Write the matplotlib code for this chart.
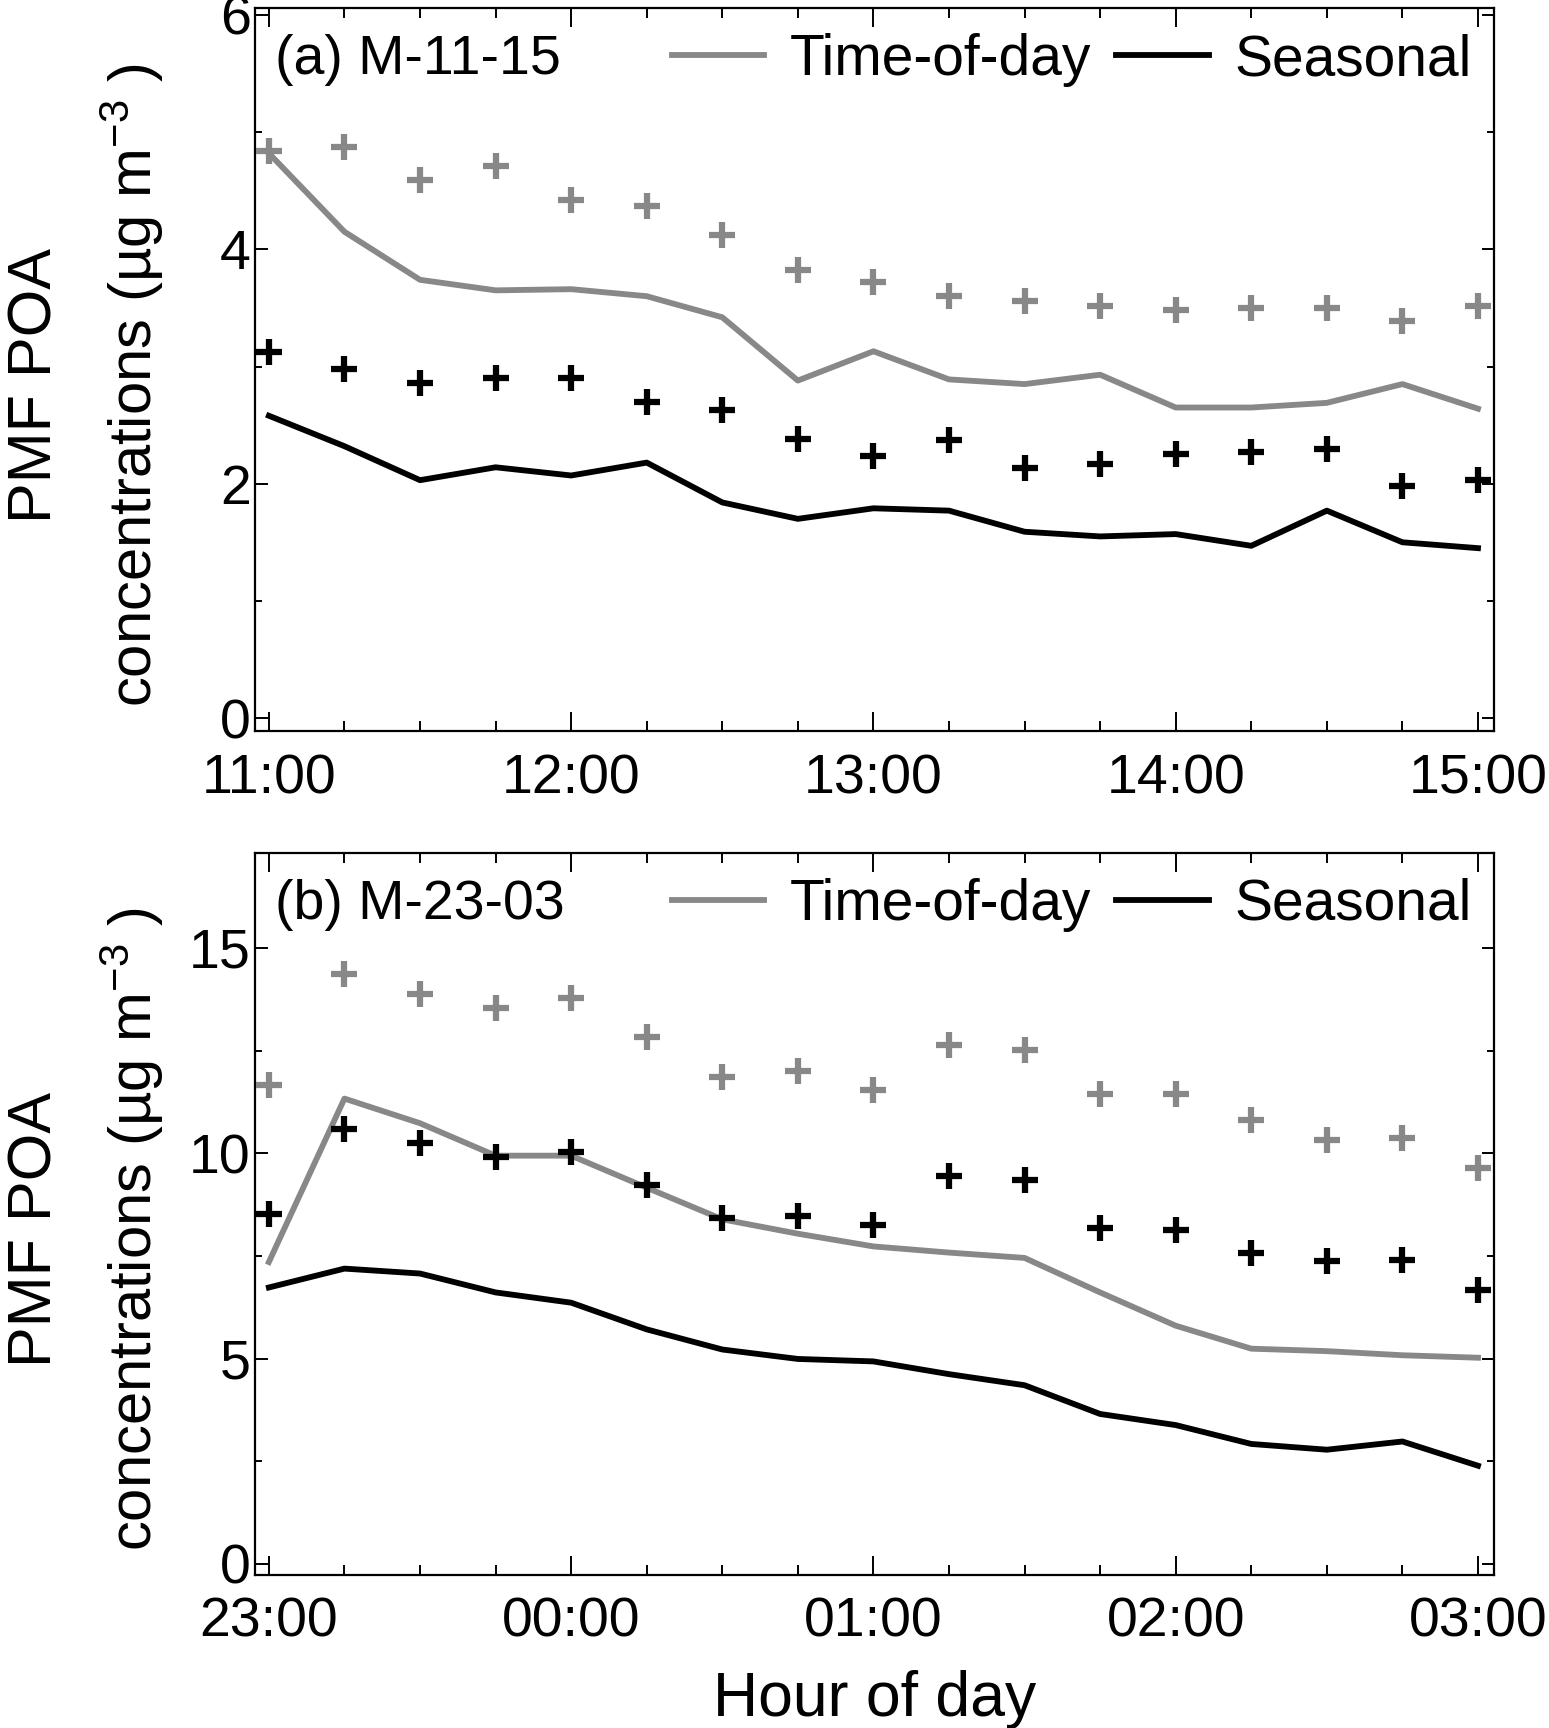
import numpy as np
import matplotlib
matplotlib.use("Agg")
import matplotlib.pyplot as plt
from matplotlib.ticker import MultipleLocator

plt.rcParams["font.family"] = ["Liberation Sans", "DejaVu Sans"]
plt.rcParams["mathtext.default"] = "regular"

# panel (a): M-11-15
times_a = ["11:00", "11:15", "11:30", "11:45", "12:00", "12:15", "12:30", "12:45", "13:00",
           "13:15", "13:30", "13:45", "14:00", "14:15", "14:30", "14:45", "15:00"]
tod_line_a = [4.82, 4.15, 3.74, 3.65, 3.66, 3.60, 3.42, 2.88, 3.13,
              2.89, 2.85, 2.93, 2.65, 2.65, 2.69, 2.85, 2.64]
sea_line_a = [2.58, 2.32, 2.03, 2.14, 2.07, 2.18, 1.84, 1.70, 1.79,
              1.77, 1.59, 1.55, 1.57, 1.47, 1.77, 1.50, 1.45]
tod_pts_a = [4.84, 4.87, 4.59, 4.71, 4.42, 4.37, 4.12, 3.82, 3.72,
             3.60, 3.56, 3.52, 3.48, 3.50, 3.50, 3.39, 3.52]
sea_pts_a = [3.12, 2.98, 2.86, 2.90, 2.90, 2.70, 2.63, 2.38, 2.24,
             2.37, 2.13, 2.17, 2.25, 2.27, 2.30, 1.98, 2.03]
xticks_a = ["11:00", "12:00", "13:00", "14:00", "15:00"]

# panel (b): M-23-03
times_b = ["23:00", "23:15", "23:30", "23:45", "00:00", "00:15", "00:30", "00:45", "01:00",
           "01:15", "01:30", "01:45", "02:00", "02:15", "02:30", "02:45", "03:00"]
tod_line_b = [7.35, 11.33, 10.73, 9.94, 9.94, 9.16, 8.39, 8.04, 7.73,
              7.58, 7.45, 6.61, 5.80, 5.24, 5.18, 5.08, 5.02]
sea_line_b = [6.73, 7.19, 7.07, 6.61, 6.36, 5.71, 5.22, 4.99, 4.93,
              4.62, 4.35, 3.65, 3.38, 2.92, 2.78, 2.98, 2.39]
tod_pts_b = [11.66, 14.37, 13.88, 13.53, 13.78, 12.82, 11.85, 11.99, 11.55,
             12.63, 12.51, 11.43, 11.43, 10.81, 10.31, 10.36, 9.63]
sea_pts_b = [8.53, 10.58, 10.24, 9.90, 10.02, 9.22, 8.43, 8.47, 8.26,
             9.44, 9.34, 8.19, 8.12, 7.58, 7.38, 7.39, 6.67]
xticks_b = ["23:00", "00:00", "01:00", "02:00", "03:00"]

GREY = "#888888"
FS_TICK, FS_LEG, FS_LAB = 40, 41, 44


def hours(labels, start):
    h0 = int(start[:2]) + int(start[3:]) / 60
    out = []
    for s in labels:
        h = int(s[:2]) + int(s[3:]) / 60
        out.append((h - h0) % 24)
    return np.array(out)


def panel(ax, times, tod_line, sea_line, tod_pts, sea_pts, xticks, title, ylim, ymaj, ymin):
    x = hours(times, times[0])
    ax.plot(x, tod_line, color=GREY, lw=4.2, label="Time-of-day", zorder=2)
    ax.plot(x, sea_line, color="k", lw=4.2, label="Seasonal", zorder=2)
    ax.plot(x, tod_pts, ls="none", marker="+", ms=19, mew=4.5, color=GREY, zorder=3)
    ax.plot(x, sea_pts, ls="none", marker="+", ms=19, mew=4.5, color="k", zorder=3)

    ax.set_xlim(-0.046, 4.053)
    ax.set_ylim(*ylim)
    ax.set_xticks(hours(xticks, times[0]))
    ax.set_xticklabels(xticks)
    ax.xaxis.set_minor_locator(MultipleLocator(0.25))
    ax.yaxis.set_major_locator(MultipleLocator(ymaj))
    ax.yaxis.set_minor_locator(MultipleLocator(ymin))
    ax.tick_params(axis="x", which="both", direction="in", top=True, bottom=True,
                   labelsize=FS_TICK, pad=16, width=1.4)
    ax.tick_params(axis="x", which="major", length=14)
    ax.tick_params(axis="x", which="minor", length=7)
    ax.tick_params(axis="y", which="both", direction="in", left=True, right=True,
                   labelsize=FS_TICK, pad=3, width=1.4)
    ax.tick_params(axis="y", which="major", length=9)
    ax.tick_params(axis="y", which="minor", length=5)
    for sp in ax.spines.values():
        sp.set_linewidth(1.6)

    ax.text(0.016, 0.928, title, transform=ax.transAxes, fontsize=FS_LEG - 1,
            ha="left", va="center")
    ax.legend(loc="center right", bbox_to_anchor=(0.982, 0.928), ncol=2, frameon=False,
              fontsize=FS_LEG, handlelength=1.62, handletextpad=0.45, columnspacing=0.45,
              borderpad=0, borderaxespad=0)
    ax.text(-0.177, 0.478, "PMF POA", transform=ax.transAxes, rotation=90,
            fontsize=FS_LAB, ha="center", va="center")
    ax.text(-0.099, 0.478, "concentrations (µg m$^{-3}$ )", transform=ax.transAxes,
            rotation=90, fontsize=FS_LAB - 1, ha="center", va="center")


fig = plt.figure(figsize=(15.49, 17.28), dpi=100)
ax1 = fig.add_axes([0.1646, 0.5770, 0.7999, 0.4184])
ax2 = fig.add_axes([0.1646, 0.0888, 0.7999, 0.4178])

panel(ax1, times_a, tod_line_a, sea_line_a, tod_pts_a, sea_pts_a, xticks_a,
      "(a) M-11-15", (-0.11, 6.06), 2, 1)
panel(ax2, times_b, tod_line_b, sea_line_b, tod_pts_b, sea_pts_b, xticks_b,
      "(b) M-23-03", (-0.26, 17.32), 5, 2.5)
ax2.set_xlabel("Hour of day", fontsize=FS_LAB + 1, labelpad=15)

fig.savefig("out.png", dpi=100)
